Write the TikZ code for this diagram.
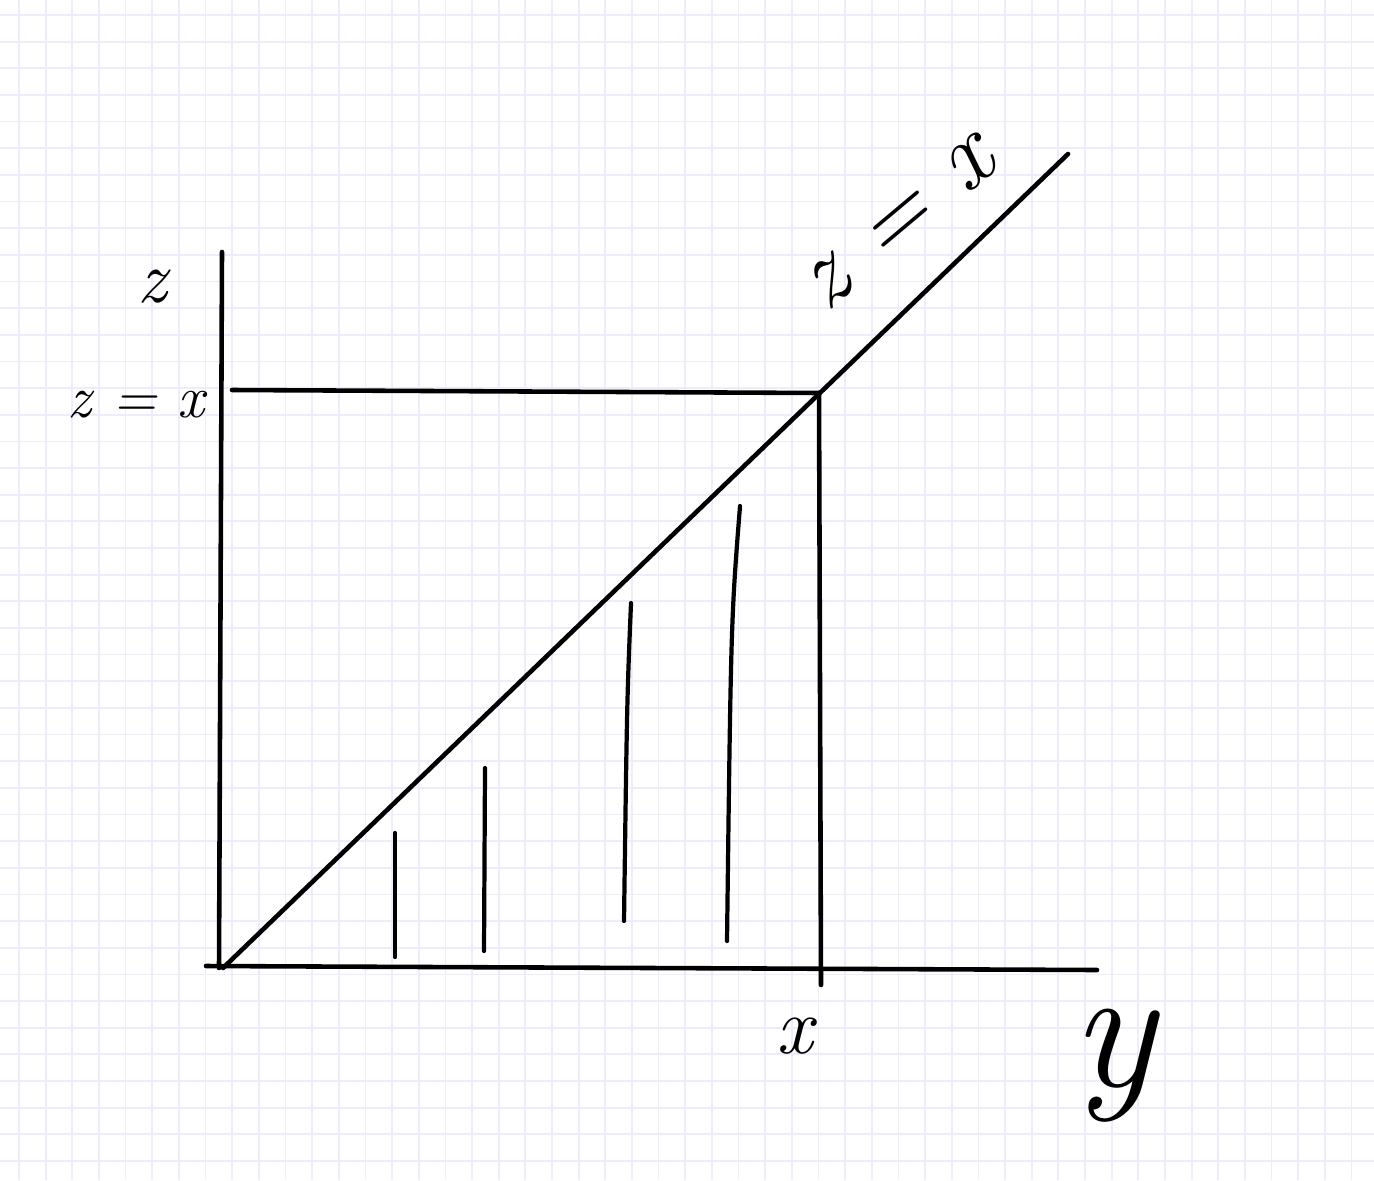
\documentclass[tikz,border=0pt]{standalone}
\usepackage{fontspec}
\usepackage{tikz}
\usetikzlibrary{positioning}

\definecolor{gridblue}{rgb}{0.92,0.93,0.98}

\begin{document}
\begin{tikzpicture}[
    x=0.1mm, y=-0.1mm,
    gridline/.style={draw=gridblue, line width=0.5pt},
    axis/.style={draw=black, line width=1.3pt, line cap=round},
    hatch/.style={draw=black, line width=1.2pt, line cap=round},
    lbl/.style={inner sep=0pt, text=black},
  ]

  % Paper: background and light grid
  \fill[white] (0,0) rectangle (1374,1180);
  \useasboundingbox (0,0) rectangle (1374,1180);
  \foreach \i in {0,...,51}
    \draw[gridline] ({19+26.65*\i},0) -- ({19+26.65*\i},1180);
  \foreach \j in {0,...,44}
    \draw[gridline] (0,{15+26.65*\j}) -- (1374,{15+26.65*\j});

  % Corner points of the sketch
  \coordinate (origin) at (223,968);
  \coordinate (ztop)   at (222,252);
  \coordinate (zbot)   at (219,968);
  \coordinate (yleft)  at (206,966);
  \coordinate (yright) at (1097,970);
  \coordinate (diagend) at (1068,154);
  \coordinate (corner) at (819,393);
  \coordinate (zxstart) at (232,390);
  \coordinate (xfoot)  at (821,985);

  % Axes
  \draw[axis] (zbot) -- (ztop);
  \draw[axis] (yleft) -- (yright);

  % Diagonal z = x
  \draw[axis] (origin) -- (diagend);

  % Level z = x and the vertical at x
  \draw[axis] (zxstart) -- (corner);
  \draw[axis] (corner) -- (xfoot);

  % Hatching of the triangle
  \coordinate (h1a) at (395,833); \coordinate (h1b) at (395,957);
  \coordinate (h2a) at (485,768); \coordinate (h2b) at (484,951);
  \coordinate (h3a) at (631,603); \coordinate (h3b) at (624,921);
  \coordinate (h4a) at (740,506); \coordinate (h4b) at (727,941);
  \draw[hatch] (h1a) -- (h1b);
  \draw[hatch] (h2a) -- (h2b);
  \draw[hatch] (h3a) .. controls (627,700) .. (h3b);
  \draw[hatch] (h4a) .. controls (731,620) .. (h4b);

  % Labels
  \node[lbl, font=\fontsize{21}{24}\selectfont\itshape] (zlbl) at (152,287) {z};
  \node[lbl, font=\fontsize{17}{20}\selectfont\itshape] (zxleft) at (136,405) {z = x};
  \node[lbl, font=\fontsize{23}{26}\selectfont\itshape] (xlbl) at (795,1036) {x};
  \node[lbl, font=\fontsize{50}{54}\selectfont\itshape] (ylbl) at (1113,1066) {y};
  \node[lbl, font=\fontsize{28}{32}\selectfont\itshape, rotate=40] (zxdiag) at (900,224) {z = x};

\end{tikzpicture}
\end{document}
